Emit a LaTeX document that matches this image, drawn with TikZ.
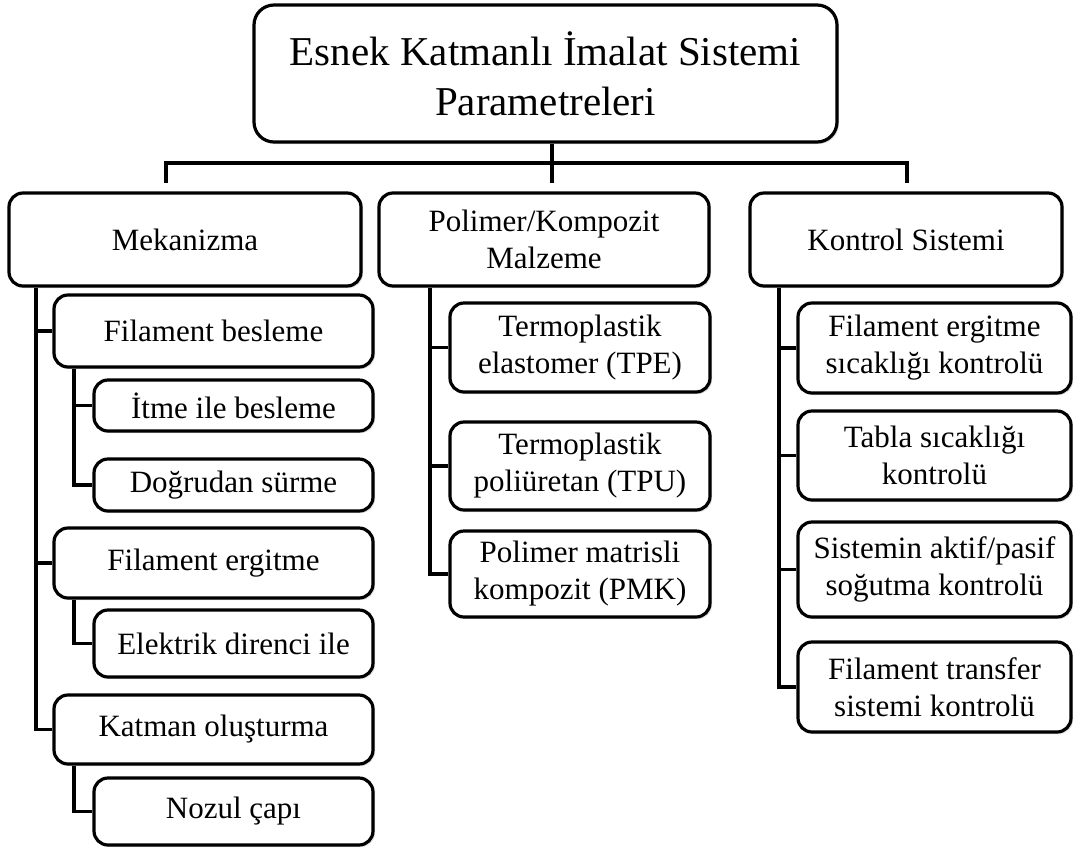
\documentclass[tikz,border=0pt]{standalone}
\usepackage{fontspec}
\setmainfont{Liberation Serif}
\usetikzlibrary{shadows}
\begin{document}
\begin{tikzpicture}[x=1pt,y=-1pt,
  box/.style={draw=black, line width=3.2pt, rounded corners=14pt, fill=white, align=center,
    inner sep=0pt, font=\fontsize{31}{37}\selectfont,
    drop shadow={opacity=0.25, shadow xshift=2pt, shadow yshift=-2pt}},
  bigbox/.style={box, rounded corners=20pt, font=\fontsize{41}{50}\selectfont},
  link/.style={draw=black, line width=3.2pt}]
\useasboundingbox (0,0) rectangle (1073,847);
% top
\node[bigbox, minimum width=583pt, minimum height=137pt] (top) at (545.5,73.5) {Esnek Katmanlı İmalat Sistemi\\Parametreleri};
% level 1
\node[box, minimum width=352pt, minimum height=93pt] (mek) at (185,239.5) {Mekanizma};
\node[box, minimum width=330pt, minimum height=93pt] (pol) at (544,239.5) {Polimer/Kompozit\\Malzeme};
\node[box, minimum width=312pt, minimum height=93pt] (kon) at (906,239.5) {Kontrol Sistemi};
% Mekanizma children
\node[box, minimum width=319pt, minimum height=72pt] (fb) at (213.5,331) {Filament besleme};
\node[box, minimum width=279pt, minimum height=51pt] (itme) at (233.5,405.5) {İtme ile besleme};
\node[box, minimum width=279pt, minimum height=52pt] (dog) at (233.5,485) {Doğrudan sürme};
\node[box, minimum width=319pt, minimum height=70pt] (fe) at (213.5,563) {Filament ergitme};
\node[box, minimum width=279pt, minimum height=67pt] (ed) at (233.5,643.5) {Elektrik direnci ile};
\node[box, minimum width=319pt, minimum height=69pt] (ko) at (213.5,729.5) {Katman oluşturma};
\node[box, minimum width=279pt, minimum height=67pt] (noz) at (233.5,811.5) {Nozul çapı};
% Polimer children
\node[box, minimum width=260pt, minimum height=89pt] (tpe) at (580,347.5) {Termoplastik\\elastomer (TPE)};
\node[box, minimum width=260pt, minimum height=88pt] (tpu) at (580,466) {Termoplastik\\poliüretan (TPU)};
\node[box, minimum width=260pt, minimum height=86pt] (pmk) at (580,574) {Polimer matrisli\\kompozit (PMK)};
% Kontrol children
\node[box, minimum width=273pt, minimum height=90pt] (k1) at (934.5,348) {Filament ergitme\\sıcaklığı kontrolü};
\node[box, minimum width=273pt, minimum height=89pt] (k2) at (934.5,455.5) {Tabla sıcaklığı\\kontrolü};
\node[box, minimum width=273pt, minimum height=95pt] (k3) at (934.5,569.5) {Sistemin aktif/pasif\\soğutma kontrolü};
\node[box, minimum width=273pt, minimum height=90pt] (k4) at (934.5,687) {Filament transfer\\sistemi kontrolü};
% bus
\coordinate (busL) at (166,163);
\coordinate (busR) at (907,163);
\coordinate (busC) at (552,163);
\coordinate (dropY) at (0,183);
\draw[link] (busL |- dropY) -- (busL) -- (busR) -- (busR |- dropY);
\draw[link] (busC |- top.south) -- (busC |- dropY);
% trunks
\coordinate (tM) at (36,0);
\coordinate (sM) at (74,0);
\coordinate (tP) at (430,0);
\coordinate (tK) at (779,0);
\draw[link] (tM |- mek.south) -- (tM |- ko.west) -- (ko.west);
\draw[link] (tM |- fb.west) -- (fb.west);
\draw[link] (tM |- fe.west) -- (fe.west);
\draw[link] (sM |- fb.south) -- (sM |- dog.west) -- (dog.west);
\draw[link] (sM |- itme.west) -- (itme.west);
\draw[link] (sM |- fe.south) -- (sM |- ed.west) -- (ed.west);
\draw[link] (sM |- ko.south) -- (sM |- noz.west) -- (noz.west);
\draw[link] (tP |- pol.south) -- (tP |- pmk.west) -- (pmk.west);
\draw[link] (tP |- tpe.west) -- (tpe.west);
\draw[link] (tP |- tpu.west) -- (tpu.west);
\draw[link] (tK |- kon.south) -- (tK |- k4.west) -- (k4.west);
\draw[link] (tK |- k1.west) -- (k1.west);
\draw[link] (tK |- k2.west) -- (k2.west);
\draw[link] (tK |- k3.west) -- (k3.west);
\end{tikzpicture}
\end{document}
